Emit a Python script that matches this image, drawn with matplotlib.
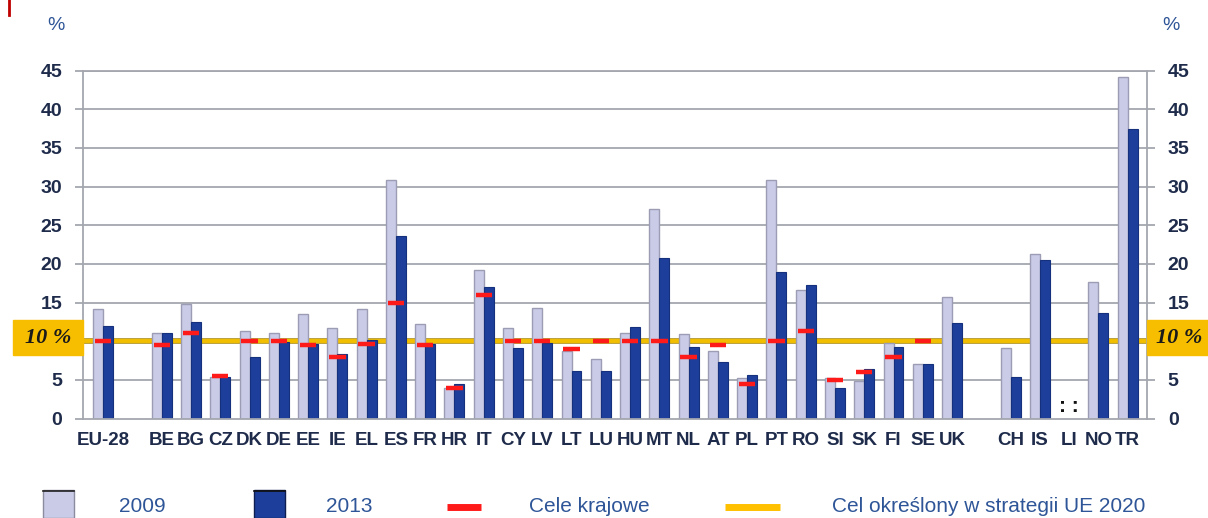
import matplotlib
matplotlib.use("Agg")
import matplotlib.pyplot as plt
import matplotlib.transforms as mtransforms
from matplotlib.patches import Rectangle
from matplotlib import font_manager
import numpy as np

# ---- data -------------------------------------------------------------
eu_total = ["EU-28"]
members = ["BE", "BG", "CZ", "DK", "DE", "EE", "IE", "EL", "ES", "FR", "HR",
           "IT", "CY", "LV", "LT", "LU", "HU", "MT", "NL", "AT", "PL", "PT",
           "RO", "SI", "SK", "FI", "SE", "UK"]
others = ["CH", "IS", "LI", "NO", "TR"]

val_2009 = [14.2,
            11.1, 14.8, 5.4, 11.3, 11.1, 13.5, 11.7, 14.2, 30.9, 12.2, 3.9,
            19.2, 11.7, 14.3, 8.7, 7.7, 11.1, 27.1, 10.9, 8.7, 5.3, 30.9,
            16.6, 5.2, 4.9, 9.8, 7.0, 15.7,
            9.1, 21.3, np.nan, 17.6, 44.2]
val_2013 = [12.0,
            11.0, 12.5, 5.4, 8.0, 9.9, 9.7, 8.4, 10.1, 23.6, 9.7, 4.5,
            17.0, 9.1, 9.8, 6.2, 6.1, 11.8, 20.8, 9.2, 7.3, 5.6, 18.9,
            17.3, 3.9, 6.4, 9.3, 7.1, 12.4,
            5.4, 20.5, np.nan, 13.7, 37.5]
national_target = [10.0,
                   9.5, 11.0, 5.5, 10.0, 10.0, 9.5, 8.0, 9.7, 15.0, 9.5, 4.0,
                   16.0, 10.0, 10.0, 9.0, 10.0, 10.0, 10.0, 8.0, 9.5, 4.5, 10.0,
                   11.3, 5.0, 6.0, 8.0, 10.0, np.nan,
                   np.nan, np.nan, np.nan, np.nan, np.nan]
eu_2020_target = 10.0
y_ticks = [0, 5, 10, 15, 20, 25, 30, 35, 40, 45]
legend_labels = ["2009", "2013", "Cele krajowe", "Cel określony w strategii UE 2020"]

# ---- style ------------------------------------------------------------
names = {f.name for f in font_manager.fontManager.ttflist}
narrow = "Liberation Sans Narrow" if "Liberation Sans Narrow" in names else "Liberation Sans"
plt.rcParams["font.family"] = ["Liberation Sans", "DejaVu Sans"]

c_light = "#CACBE6"
c_light_edge = "#9C9CB4"
c_dark = "#1D3F9B"
c_dark_edge = "#15307C"
c_red = "#FF1A1A"
c_gold = "#F2BE00"
c_box = "#F7BE00"
c_grid = "#A4A7AE"
c_tick = "#1E2B4A"
c_blue_text = "#2E5597"

W, H = 1208, 518
fig = plt.figure(figsize=(W / 100, H / 100), dpi=100)
ax = fig.add_axes([83 / W, 1 - 418.5 / H, (1147 - 83) / W, (418.5 - 70.7) / H])

# slot positions: groups separated by one empty slot
groups = [eu_total, members, others]
categories, xpos = [], []
slot = 0
for g in groups:
    for name in g:
        categories.append(name)
        xpos.append(slot)
        slot += 1
    slot += 1
xpos = np.array(xpos, dtype=float)

bw = 0.34
v09 = np.array(val_2009)
v13 = np.array(val_2013)
tgt = np.array(national_target)

ax.set_xlim(-0.69, 35.66)
ax.set_ylim(0, 45)

# grid and EU 2020 line behind bars
for t in y_ticks[1:]:
    if t != eu_2020_target:
        ax.axhline(t, color=c_grid, lw=1.3, zorder=0)
ax.axhline(eu_2020_target, color="#B89A30", lw=4.2, zorder=0.5)
ax.axhline(eu_2020_target, color=c_gold, lw=2.8, zorder=0.6)

ax.bar(xpos - bw / 2, np.nan_to_num(v09), width=bw, color=c_light,
       edgecolor=c_light_edge, linewidth=1.0, zorder=2)
ax.bar(xpos + bw / 2, np.nan_to_num(v13), width=bw, color=c_dark,
       edgecolor=c_dark_edge, linewidth=0.8, zorder=2)

# national targets
m = ~np.isnan(tgt)
ax.hlines(tgt[m], xpos[m] - 0.28, xpos[m] + 0.28, color=c_red, lw=3.2,
          zorder=3)

# missing data marker
li = categories.index("LI")
ax.text(xpos[li], 1.5, ": :", ha="center", va="center", fontsize=15,
        fontweight="bold", color="#111111")

# axes
for s in ["left", "bottom", "right"]:
    ax.spines[s].set_color(c_grid)
    ax.spines[s].set_linewidth(1.3)
ax.spines["top"].set_visible(False)
ax.axhline(45, color=c_grid, lw=1.3, zorder=0, clip_on=False)

# the 10 % level is labelled by the boxes instead of a tick number
ax.set_yticks(y_ticks)
ax.set_yticklabels(["" if t == eu_2020_target else str(t) for t in y_ticks])
ax.tick_params(axis="y", which="both", left=True, right=True, labelleft=True,
               labelright=True, length=6, width=1.3, color=c_grid, pad=9,
               labelsize=14, labelcolor=c_tick)
for lab in ax.get_yticklabels():
    lab.set_fontfamily(narrow)
    lab.set_fontweight("bold")
ax.set_xticks(xpos)
ax.set_xticklabels(categories)
ax.tick_params(axis="x", length=0, pad=10, labelsize=13.5, labelcolor=c_tick)
for lab in ax.get_xticklabels():
    lab.set_fontfamily(narrow)
    lab.set_fontweight("bold")

# "10 %" boxes at both ends of the EU target line
blend = mtransforms.blended_transform_factory(fig.transFigure, ax.transData)
for x0, x1, xc in [(13, 83, 48), (1147, 1208, 1179)]:
    fig.patches.append(Rectangle((x0 / W, 8.2), (x1 - x0) / W, 4.5,
                                 transform=blend, color=c_box, zorder=1))
    fig.text(xc / W, 10.45, "10 %", transform=blend, ha="center", va="center",
             fontsize=16, fontstyle="italic", fontweight="bold",
             family="Liberation Serif", color="#1A1A1A")

# unit labels
fig.text(56 / W, 1 - 25 / H, "%", ha="center", va="center", fontsize=14,
         color=c_blue_text)
fig.text(1171 / W, 1 - 25 / H, "%", ha="center", va="center", fontsize=14,
         color=c_blue_text)
fig.add_artist(plt.Line2D([8.5 / W, 8.5 / W], [1, 1 - 15 / H], color="#C00000",
                          lw=2))

# legend along the bottom
ly = 1 - 507 / H
fig.patches.append(Rectangle((43 / W, 0), 31 / W, (518 - 490) / H,
                             transform=fig.transFigure, facecolor=c_light,
                             edgecolor="#8C8CA0", lw=1.0))
fig.add_artist(plt.Line2D([43 / W, 74 / W], [1 - 490.5 / H] * 2, color="#222222", lw=1.2))
fig.patches.append(Rectangle((254 / W, 0), 31 / W, (518 - 490) / H,
                             transform=fig.transFigure, facecolor=c_dark,
                             edgecolor="#0E1E50", lw=1.0))
fig.add_artist(plt.Line2D([254 / W, 285 / W], [1 - 490.5 / H] * 2, color="#111111", lw=1.2))
fig.add_artist(plt.Line2D([447 / W, 481 / W], [ly, ly], color=c_red, lw=5,
                          solid_capstyle="butt"))
fig.add_artist(plt.Line2D([725 / W, 780 / W], [ly, ly], color="#FFC000", lw=5,
                          solid_capstyle="butt"))
for xl, text in zip([119, 326, 529, 832], legend_labels):
    fig.text(xl / W, ly, text, ha="left", va="center", fontsize=15,
             family=narrow, color=c_blue_text)

fig.savefig("out.png", dpi=100)
